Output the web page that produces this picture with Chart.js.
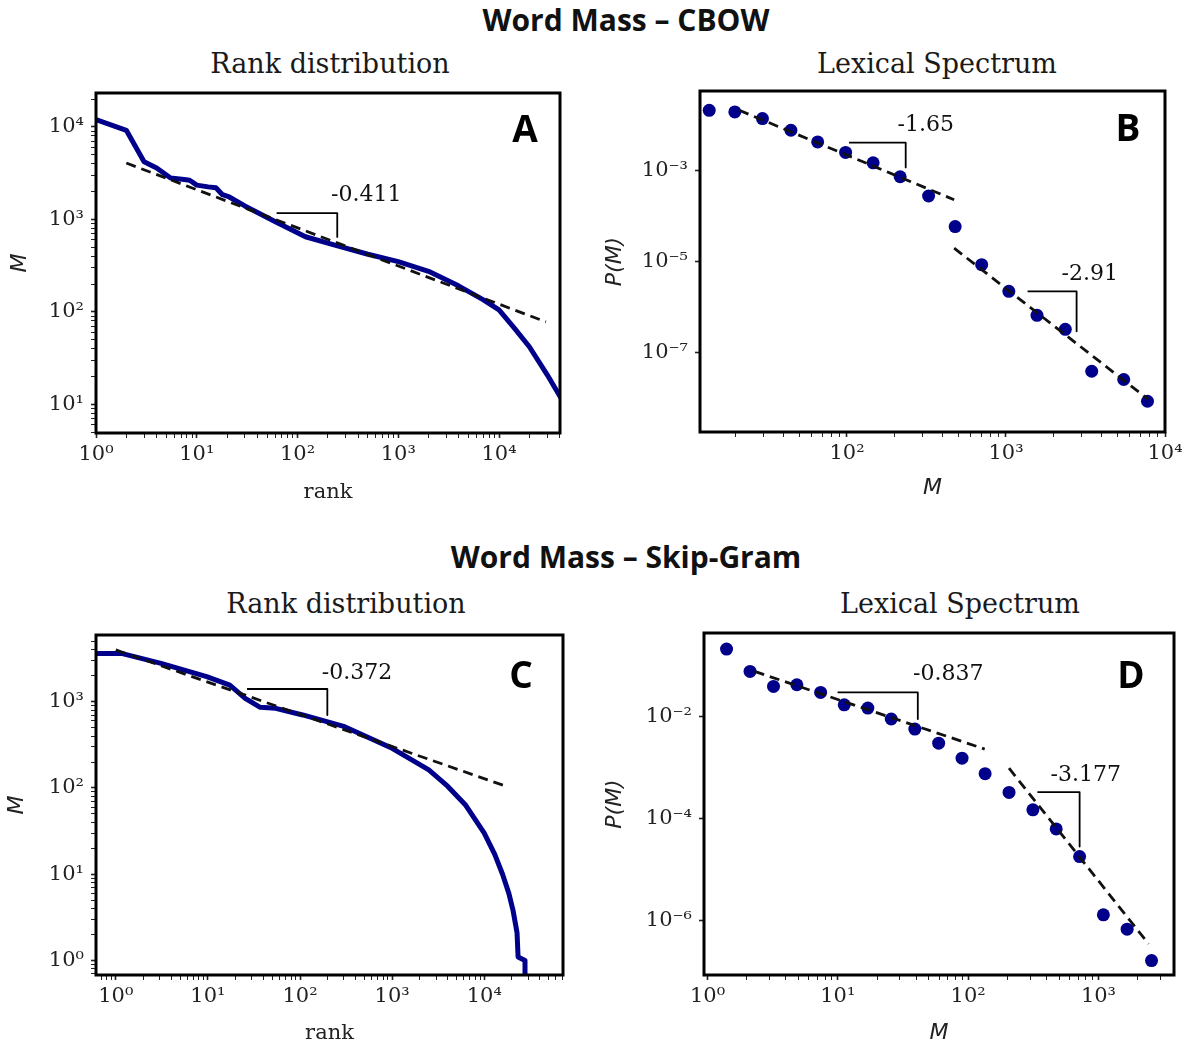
<!DOCTYPE html>
<html>
<head>
<meta charset="utf-8">
<script src="https://cdn.jsdelivr.net/npm/chart.js@4"></script>
<style>
  body { margin: 0; background: #fff; }
  #page { position: relative; width: 1191px; height: 1050px; overflow: hidden; background: #fff; }
  canvas { position: absolute; }
  .txt { position: absolute; white-space: nowrap; transform: translate(-50%, -50%); color: #111; line-height: 1; }
  .suptitle { font: bold 30px 'Open Sans', sans-serif; }
  .subtitle { font: 27px 'DejaVu Serif', serif; color: #1a1a1a; }
  .letter { font: bold 37px 'Open Sans', sans-serif; color: #000; }
</style>
</head>
<body>
<div id="page">
  <div class="txt suptitle" style="left:626px;top:19px">Word Mass – CBOW</div>
  <div class="txt subtitle" style="left:330px;top:63px">Rank distribution</div>
  <div class="txt subtitle" style="left:937px;top:63px">Lexical Spectrum</div>
  <div class="txt suptitle" style="left:626px;top:556px">Word Mass – Skip-Gram</div>
  <div class="txt subtitle" style="left:346px;top:603px">Rank distribution</div>
  <div class="txt subtitle" style="left:960px;top:603px">Lexical Spectrum</div>

  <canvas id="chartA" width="590" height="430" style="left:0px;top:80px"></canvas>
  <canvas id="chartB" width="596" height="432" style="left:595px;top:78px"></canvas>
  <canvas id="chartC" width="590" height="428" style="left:0px;top:622px"></canvas>
  <canvas id="chartD" width="596" height="430" style="left:595px;top:620px"></canvas>

  <div class="txt letter" style="left:525px;top:127px">A</div>
  <div class="txt letter" style="left:1128px;top:126px">B</div>
  <div class="txt letter" style="left:521px;top:673px">C</div>
  <div class="txt letter" style="left:1131px;top:673px">D</div>
</div>
<script>
// ---- A: CBOW rank distribution ----
const rankA = [1, 2, 3, 4, 5.5, 7.5, 8.5, 10, 13, 15.5, 18, 21, 30, 61, 120, 230, 500, 1000, 2000, 4000, 7000, 10000, 14000, 20000, 30000, 41600];
const massA = [12000, 9200, 4200, 3600, 2800, 2700, 2650, 2350, 2250, 2200, 1850, 1750, 1400, 940, 650, 530, 420, 350, 275, 190, 135, 105, 68, 42, 21, 11.5];
const fitA_x = [2, 29200];
const fitA_y = [4070, 78];
const triA_x = [62, 248, 248];
const triA_y = [1170, 1170, 647];
const slopeA = "-0.411";

// ---- B: CBOW lexical spectrum ----
const massB = [13.6, 19.7, 29.4, 44.4, 65.4, 98, 146, 216, 326, 479, 703, 1042, 1567, 2360, 3460, 5500, 7760];
const probB = [0.0216, 0.0199, 0.0142, 0.00783, 0.00434, 0.00254, 0.0015, 0.00074, 0.000278, 5.9e-5, 8.5e-6, 2.2e-6, 6.5e-7, 3.2e-7, 3.8e-8, 2.5e-8, 8.3e-9];
const fitB1_x = [21, 472];
const fitB1_y = [0.0216, 2.3e-4];
const fitB2_x = [472, 7850];
const fitB2_y = [1.97e-5, 9.1e-9];
const triB1_x = [103, 234, 234];
const triB1_y = [0.0042, 0.0042, 0.00119];
const triB2_x = [1367, 2780, 2780];
const triB2_y = [2.19e-6, 2.19e-6, 2.9e-7];
const slopeB = ["-1.65", "-2.91"];

// ---- C: Skip-Gram rank distribution ----
const rankC = [0.61, 1.15, 3.1, 9.7, 17.3, 25.4, 37, 54.5, 107, 305, 1000, 1600, 2500, 4000, 6300, 10000, 13000, 15800, 18500, 20500, 22700, 23300, 27700, 27700];
const massC = [3630, 3630, 2785, 1950, 1560, 1095, 861, 838, 702, 513, 288, 215, 162, 105, 63, 30, 17, 10, 6, 3.85, 2.1, 1.1, 1.0, 0.5];
const fitC_x = [1, 17800];
const fitC_y = [3980, 103.5];
const triC_x = [26.6, 198, 198];
const triC_y = [1403, 1403, 701];
const slopeC = "-0.372";

// ---- D: Skip-Gram lexical spectrum ----
const massD = [1.40, 2.12, 3.21, 4.85, 7.38, 11.2, 17, 25.7, 39, 59.4, 89.8, 135, 206, 314, 474, 717, 1091, 1660, 2555];
const probD = [0.208, 0.0759, 0.0387, 0.0417, 0.0295, 0.0169, 0.0146, 0.0089, 0.00566, 0.0030, 0.00153, 0.00076, 0.000326, 0.000149, 6.3e-5, 1.82e-5, 1.32e-6, 6.9e-7, 1.68e-7];
const fitD1_x = [2.3, 134];
const fitD1_y = [0.0759, 0.0023];
const fitD2_x = [206, 2425];
const fitD2_y = [9.7e-4, 3.56e-7];
const triD1_x = [9.96, 41.1, 41.1];
const triD1_y = [0.0295, 0.0295, 0.0089];
const triD2_x = [340, 717, 717];
const triD2_y = [3.3e-4, 3.3e-4, 2.86e-5];
const slopeD = ["-0.837", "-3.177"];

// labelled decade ticks for each axis
const ticksAx = [1, 10, 100, 1000, 10000];
const ticksAy = [10, 100, 1000, 10000];
const ticksBx = [100, 1000, 10000];
const ticksBy = [1e-7, 1e-5, 1e-3];
const ticksCx = [1, 10, 100, 1000, 10000];
const ticksCy = [1, 10, 100, 1000];
const ticksDx = [1, 10, 100, 1000];
const ticksDy = [1e-6, 1e-4, 1e-2];

const NAVY = "#00008b";
const SUP = { "0": "⁰", "1": "¹", "2": "²", "3": "³", "4": "⁴", "5": "⁵", "6": "⁶", "7": "⁷", "8": "⁸", "9": "⁹", "-": "⁻" };

function pow10Label(v) {
  const e = String(Math.round(Math.log10(v)));
  return "10" + e.split("").map(c => SUP[c]).join("");
}

function pts(xs, ys) {
  return xs.map((x, i) => ({ x: x, y: ys[i] }));
}

// minor ticks at 2..9 x 10^n inside the range
function minorTicks(min, max) {
  const out = [];
  for (let e = Math.floor(Math.log10(min)); e <= Math.ceil(Math.log10(max)); e++) {
    for (let k = 2; k <= 9; k++) {
      const v = k * Math.pow(10, e);
      if (v > min && v < max) out.push(v);
    }
  }
  return out;
}

function lineSet(xs, ys, color, width, dash) {
  return {
    data: pts(xs, ys), showLine: true, borderColor: color, borderWidth: width,
    borderDash: dash || [], pointRadius: 0, tension: 0, fill: false, borderJoinStyle: "round"
  };
}

function dotSet(xs, ys) {
  return {
    data: pts(xs, ys), showLine: false, pointRadius: 6.5,
    pointBackgroundColor: NAVY, pointBorderColor: NAVY, pointBorderWidth: 0
  };
}

const framePlugin = {
  id: "frame",
  afterDatasetsDraw(chart) {
    const { ctx, chartArea: a } = chart;
    ctx.save();
    ctx.strokeStyle = "#000";
    ctx.lineWidth = 3;
    ctx.strokeRect(a.left, a.top, a.right - a.left, a.bottom - a.top);
    ctx.restore();
  }
};

const notePlugin = {
  id: "notes",
  afterDatasetsDraw(chart, args, opts) {
    const { ctx, scales } = chart;
    (opts.items || []).forEach(n => {
      ctx.save();
      ctx.font = '22px "DejaVu Serif"';
      ctx.fillStyle = "#111";
      ctx.textAlign = "left";
      ctx.textBaseline = "middle";
      ctx.fillText(n.text, scales.x.getPixelForValue(n.x), scales.y.getPixelForValue(n.y));
      ctx.restore();
    });
  }
};

function logAxis(ax, horizontal) {
  const minor = ax.minor ? minorTicks(ax.min, ax.max) : [];
  return {
    type: "logarithmic",
    position: horizontal ? "bottom" : "left",
    min: ax.min,
    max: ax.max,
    bounds: "data",
    afterBuildTicks: s => {
      s.ticks = ax.ticks.concat(minor).sort((a, b) => a - b).map(v => ({ value: v }));
    },
    afterFit: s => {
      if (horizontal) s.height = ax.size; else s.width = ax.size;
      s.paddingLeft = 0; s.paddingRight = 0; s.paddingTop = 0; s.paddingBottom = 0;
    },
    grid: {
      drawOnChartArea: false, drawTicks: true, tickLength: 5, tickColor: "#222",
      tickWidth: c => (c.tick && ax.ticks.includes(c.tick.value) ? 1.6 : 1)
    },
    border: { display: false },
    ticks: {
      autoSkip: false, maxRotation: 0, minRotation: 0, padding: horizontal ? 4 : 7,
      color: "#222", font: { family: "DejaVu Serif", size: 21 },
      callback: v => (ax.ticks.includes(v) ? pow10Label(v) : "")
    },
    title: {
      display: true, text: ax.title, color: "#222",
      font: ax.titleFont,
      padding: horizontal ? { top: 0, bottom: ax.titlePad } : { top: ax.titlePad, bottom: 0 }
    }
  };
}

const serifTitle = { family: "DejaVu Serif", size: 21 };
const italicTitle = { family: "DejaVu Sans", size: 22, style: "italic" };

function makePanel(id, cfg) {
  new Chart(document.getElementById(id), {
    type: "scatter",
    data: { datasets: cfg.datasets },
    options: {
      responsive: false,
      animation: false,
      events: [],
      layout: { padding: { top: cfg.padTop, right: cfg.padRight, left: 0, bottom: 0 } },
      plugins: { legend: { display: false }, tooltip: { enabled: false }, notes: { items: cfg.notes } },
      scales: { x: logAxis(cfg.x, true), y: logAxis(cfg.y, false) }
    },
    plugins: [framePlugin, notePlugin]
  });
}

makePanel("chartA", {
  padTop: 13, padRight: 30,
  x: { min: 1, max: 40300, ticks: ticksAx, minor: true, size: 77, title: "rank", titleFont: serifTitle, titlePad: 5 },
  y: { min: 4.9, max: 23300, ticks: ticksAy, minor: true, size: 96, title: "M", titleFont: italicTitle, titlePad: 7 },
  datasets: [
    lineSet(fitA_x, fitA_y, "#111", 2.8, [10, 6]),
    lineSet(triA_x, triA_y, "#000", 1.8),
    lineSet(rankA, massA, NAVY, 5)
  ],
  notes: [{ text: slopeA, x: 215, y: 1820 }]
});

makePanel("chartB", {
  padTop: 13, padRight: 26,
  x: { min: 11.9, max: 10000, ticks: ticksBx, minor: true, size: 78, title: "M", titleFont: italicTitle, titlePad: 9 },
  y: { min: 1.74e-9, max: 0.0575, ticks: ticksBy, minor: false, size: 105, title: "P(M)", titleFont: italicTitle, titlePad: 7 },
  datasets: [
    lineSet(fitB1_x, fitB1_y, "#111", 2.8, [10, 6]),
    lineSet(fitB2_x, fitB2_y, "#111", 2.8, [10, 6]),
    lineSet(triB1_x, triB1_y, "#000", 1.8),
    lineSet(triB2_x, triB2_y, "#000", 1.8),
    dotSet(massB, probB)
  ],
  notes: [{ text: slopeB[0], x: 208, y: 0.0101 }, { text: slopeB[1], x: 2235, y: 5.1e-6 }]
});

makePanel("chartC", {
  padTop: 13, padRight: 27,
  x: { min: 0.61, max: 71600, ticks: ticksCx, minor: true, size: 75, title: "rank", titleFont: serifTitle, titlePad: 4 },
  y: { min: 0.68, max: 5930, ticks: ticksCy, minor: true, size: 96, title: "M", titleFont: italicTitle, titlePad: 4 },
  datasets: [
    lineSet(fitC_x, fitC_y, "#111", 2.8, [10, 6]),
    lineSet(triC_x, triC_y, "#000", 1.8),
    lineSet(rankC, massC, NAVY, 5)
  ],
  notes: [{ text: slopeC, x: 172, y: 2130 }]
});

makePanel("chartD", {
  padTop: 13, padRight: 17,
  x: { min: 0.94, max: 3800, ticks: ticksDx, minor: true, size: 75, title: "M", titleFont: italicTitle, titlePad: 4 },
  y: { min: 8.77e-8, max: 0.4285, ticks: ticksDy, minor: false, size: 109, title: "P(M)", titleFont: italicTitle, titlePad: 7 },
  datasets: [
    lineSet(fitD1_x, fitD1_y, "#111", 2.8, [10, 6]),
    lineSet(fitD2_x, fitD2_y, "#111", 2.8, [10, 6]),
    lineSet(triD1_x, triD1_y, "#000", 1.8),
    lineSet(triD2_x, triD2_y, "#000", 1.8),
    dotSet(massD, probD)
  ],
  notes: [{ text: slopeD[0], x: 37.8, y: 0.0655 }, { text: slopeD[1], x: 429, y: 7.2e-4 }]
});
</script>
</body>
</html>
